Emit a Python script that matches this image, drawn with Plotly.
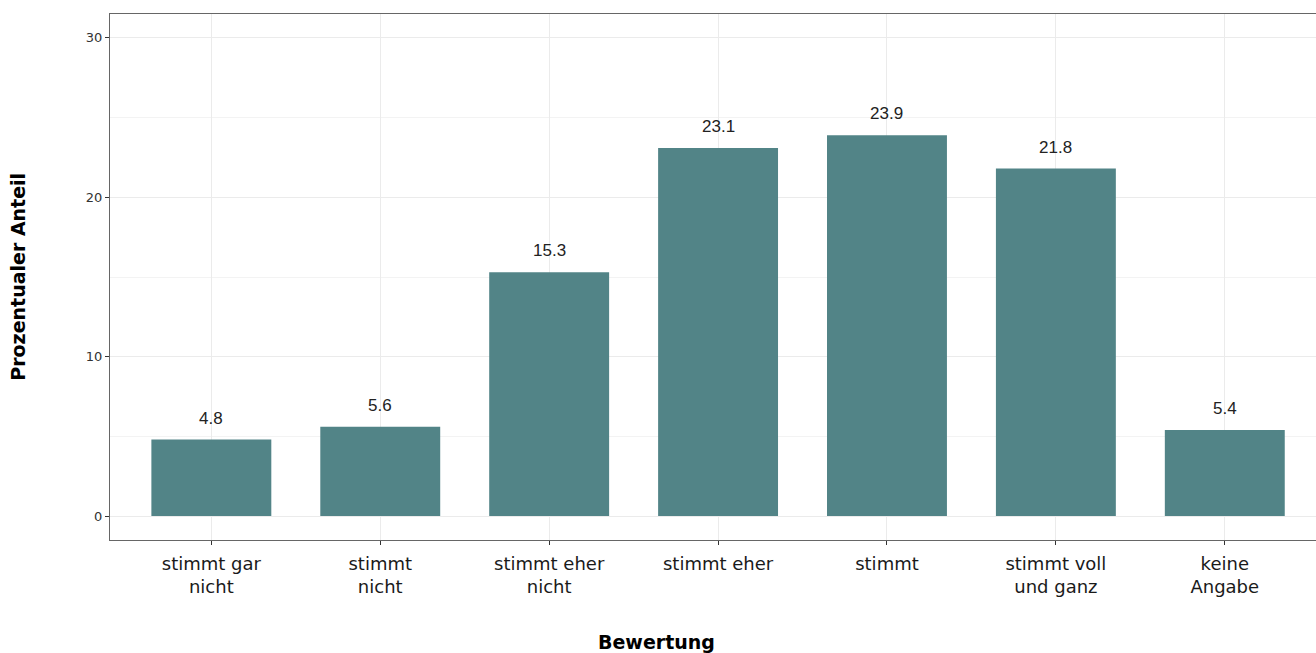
import plotly.graph_objects as go

categories = ["stimmt gar<br>nicht", "stimmt<br>nicht", "stimmt eher<br>nicht", "stimmt eher",
              "stimmt", "stimmt voll<br>und ganz", "keine<br>Angabe"]
values = [4.8, 5.6, 15.3, 23.1, 23.9, 21.8, 5.4]
y_ticks = [0, 10, 20, 30]

bar_color = "#528487"
tick_font = "'DejaVu Sans', sans-serif"

fig = go.Figure()
fig.add_trace(go.Bar(x=categories, y=values, marker=dict(color=bar_color, line=dict(width=0)),
                     hoverinfo="x+y"))

for c, v in zip(categories, values):
    fig.add_annotation(x=c, y=v, text=f"{v:.1f}", showarrow=False, yanchor="bottom", yshift=10,
                       font=dict(family="Liberation Sans, Arial, sans-serif", size=17, color="#222222"))

fig.add_annotation(xref="paper", yref="paper", x=0.453, y=-0.193, yanchor="middle", xanchor="center",
                   text="<b>Bewertung</b>", showarrow=False,
                   font=dict(family=tick_font, size=19, color="#000000"))
fig.add_annotation(xref="paper", yref="paper", x=-0.0765, y=0.5, xanchor="center", yanchor="middle",
                   text="<b>Prozentualer Anteil</b>", showarrow=False, textangle=-90,
                   font=dict(family=tick_font, size=19, color="#000000"))

fig.update_layout(
    width=1316, height=653,
    margin=dict(l=110, r=0, t=14, b=113),
    plot_bgcolor="white", paper_bgcolor="white",
    bargap=0.29, showlegend=False,
    xaxis=dict(range=[-0.6, 6.54], showgrid=True, gridcolor="#ebebeb", gridwidth=1,
               showline=True, linecolor="#666666", linewidth=1, mirror=True,
               ticks="outside", ticklen=4, tickcolor="#333333", ticklabelstandoff=3,
               tickfont=dict(family=tick_font, size=18, color="#1a1a1a")),
    yaxis=dict(range=[-1.5, 31.5], tickvals=y_ticks, showgrid=True, gridcolor="#ebebeb", gridwidth=1,
               minor=dict(tickvals=[5, 15, 25], showgrid=True, gridcolor="#f3f3f3", gridwidth=1),
               zeroline=False, showline=True, linecolor="#666666", linewidth=1, mirror=False,
               ticks="outside", ticklen=4, tickcolor="#333333",
               tickfont=dict(family=tick_font, size=13, color="#333333")),
)

fig.write_html("out.html")
